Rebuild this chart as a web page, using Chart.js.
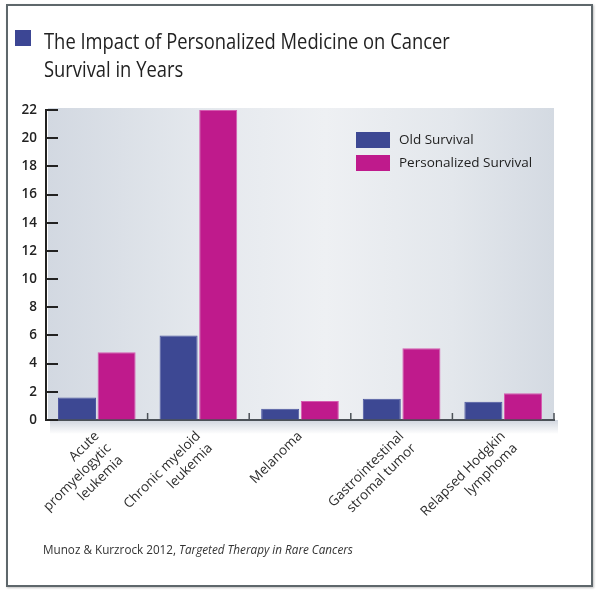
<!DOCTYPE html>
<html>
<head>
<meta charset="utf-8">
<script src="https://cdn.jsdelivr.net/npm/chart.js@4/dist/chart.umd.min.js"></script>
<style>
html,body{margin:0;padding:0;background:#fff;}
#wrap{position:relative;width:598px;height:593px;overflow:hidden;font-family:"Open Sans",sans-serif;}
#frame{position:absolute;left:6px;top:4px;width:587px;height:583px;box-sizing:border-box;border:2px solid #5e676b;box-shadow:1px 1px 2px rgba(0,0,0,0.25);}
#sq{position:absolute;left:15px;top:30px;width:16px;height:16px;background:#3c4694;}
#title{position:absolute;left:44px;top:26px;font-size:22px;line-height:28px;color:#222;transform:scaleX(0.835);transform-origin:0 0;white-space:nowrap;}
#source{position:absolute;left:43px;top:540px;font-size:13px;line-height:18px;color:#333;transform:scaleX(0.9);transform-origin:0 0;white-space:nowrap;}
canvas{position:absolute;left:0;top:0;}
</style>
</head>
<body>
<div id="wrap">
<div id="frame"></div>
<canvas id="c" width="598" height="593"></canvas>
<div id="sq"></div>
<div id="title">The Impact of Personalized Medicine on Cancer<br>Survival in Years</div>
<div id="source">Munoz &amp; Kurzrock 2012, <i>Targeted Therapy in Rare Cancers</i></div>
</div>
<script>
const categories = [
  ["Acute", "promyelogytic", "leukemia"],
  ["Chronic myeloid", "leukemia"],
  "Melanoma",
  ["Gastrointestinal", "stromal tumor"],
  ["Relapsed Hodgkin", "lymphoma"]
];
const seriesNames = ["Old Survival", "Personalized Survival"];
const oldSurvival = [1.6, 6.0, 0.8, 1.5, 1.3];
const personalizedSurvival = [4.8, 22, 1.35, 5.1, 1.9];
const yMin = 0, yMax = 22, yStep = 2;

const OLD_COLOR = '#3d4893';
const PERS_COLOR = '#bf1a8c';

const bgPlugin = {
  id: 'bg',
  beforeDraw(chart) {
    const {ctx, chartArea} = chart;
    const {left, top, right, bottom} = chartArea;
    ctx.save();
    const g = ctx.createLinearGradient(left, 0, right, 0);
    g.addColorStop(0, '#d2d8e1');
    g.addColorStop(0.3, '#e4e8ed');
    g.addColorStop(0.55, '#eef0f3');
    g.addColorStop(0.8, '#e3e7ec');
    g.addColorStop(1, '#d4dae2');
    ctx.fillStyle = g;
    ctx.fillRect(left + 2, top - 2, right - left - 2, bottom - top + 2);
    const sg = ctx.createLinearGradient(0, bottom, 0, bottom + 14);
    sg.addColorStop(0, 'rgba(120,135,160,0.35)');
    sg.addColorStop(1, 'rgba(120,135,160,0)');
    ctx.fillStyle = sg;
    ctx.fillRect(left + 4, bottom, right - left, 14);
    ctx.restore();
  }
};

const marksPlugin = {
  id: 'marks',
  beforeDatasetsDraw(chart) {
    const {ctx, chartArea, scales} = chart;
    const y = scales.y, x = scales.x;
    ctx.save();
    ctx.strokeStyle = '#222';
    ctx.lineWidth = 2;
    y.ticks.forEach((t, i) => {
      const py = Math.round(y.getPixelForTick(i));
      ctx.beginPath();
      ctx.moveTo(chartArea.left, py);
      ctx.lineTo(chartArea.left + 12, py);
      ctx.stroke();
    });
    ctx.strokeStyle = '#4b5157';
    ctx.lineWidth = 1.5;
    const n = x.ticks.length;
    for (let i = 0; i < n; i++) {
      const px = i < n - 1 ? (x.getPixelForTick(i) + x.getPixelForTick(i + 1)) / 2 : chartArea.right;
      ctx.beginPath();
      ctx.moveTo(px, chartArea.bottom);
      ctx.lineTo(px, chartArea.bottom - 7);
      ctx.stroke();
    }
    ctx.restore();
  }
};

const legendPlugin = {
  id: 'insideLegend',
  afterDraw(chart) {
    const {ctx} = chart;
    ctx.save();
    ctx.font = '13.5px "Open Sans"';
    ctx.textBaseline = 'middle';
    ctx.textAlign = 'left';
    const rows = [{y: 132, h: 16}, {y: 155, h: 16}];
    chart.data.datasets.forEach((ds, i) => {
      const r = rows[i];
      ctx.fillStyle = ds.backgroundColor;
      ctx.fillRect(356, r.y, 34, r.h);
      ctx.fillStyle = '#222';
      ctx.fillText(ds.label, 399, r.y + r.h / 2);
    });
    ctx.restore();
  }
};

new Chart(document.getElementById('c'), {
  type: 'bar',
  data: {
    labels: categories,
    datasets: [
      {label: seriesNames[0], data: oldSurvival, backgroundColor: OLD_COLOR, borderColor: '#4c57a0', borderWidth: 1},
      {label: seriesNames[1], data: personalizedSurvival, backgroundColor: PERS_COLOR, borderColor: '#d55bb0', borderWidth: 1}
    ]
  },
  options: {
    responsive: false,
    devicePixelRatio: 1,
    animation: false,
    layout: {padding: {left: 0, top: 110, right: 44, bottom: 0}},
    datasets: {bar: {categoryPercentage: 0.78, barPercentage: 0.96}},
    plugins: {legend: {display: false}, title: {display: false}, tooltip: {enabled: false}},
    scales: {
      x: {
        grid: {display: false, drawTicks: false},
        border: {display: true, color: '#4b5157', width: 2},
        ticks: {
          autoSkip: false, maxRotation: 45, minRotation: 45, padding: 8,
          color: '#2e2e2e',
          font: {family: 'Open Sans', size: 13.5, lineHeight: 1.26}
        },
        afterFit(s) { s.height = 173; }
      },
      y: {
        min: yMin, max: yMax,
        grid: {display: true, drawOnChartArea: false, drawTicks: false},
        border: {display: true, color: '#222', width: 2},
        ticks: {stepSize: yStep, padding: 9, color: '#222', font: {family: 'Open Sans', size: 13.5, weight: '600'}},
        afterFit(s) { s.width = 46; }
      }
    }
  },
  plugins: [bgPlugin, marksPlugin, legendPlugin]
});
</script>
</body>
</html>
